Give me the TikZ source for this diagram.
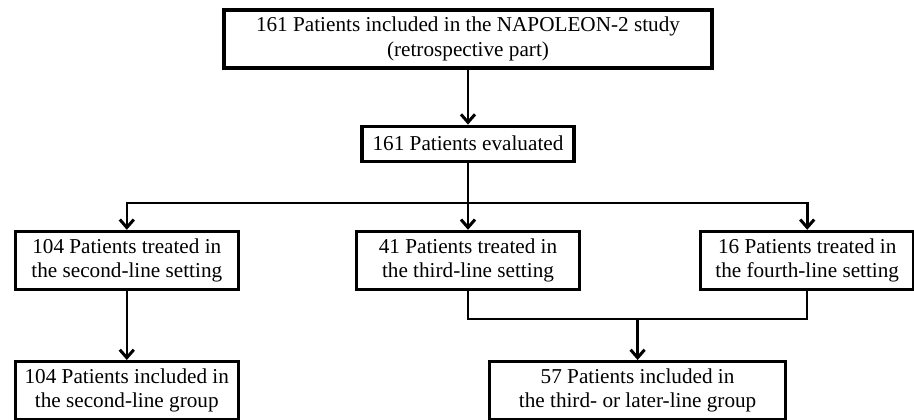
\documentclass[tikz,border=0pt]{standalone}
\usepackage{fontspec}
\setmainfont{Liberation Serif}
\usetikzlibrary{arrows.meta,positioning,calc}

\begin{document}
\begin{tikzpicture}[x=1pt,y=1pt,font=\fontsize{21.2}{24.2}\selectfont,
 box/.style={draw,line width=3.2pt,align=center,inner sep=0pt,minimum height=58pt},
 link/.style={line width=2.6pt},
 flow/.style={link,-{Straight Barb[length=8pt,width=14pt,line width=3pt]}}]
\useasboundingbox (0,0) rectangle (914,-420);
\node[box,minimum width=488pt,minimum height=58pt] (napoleon) at (468,-39) {161 Patients included in the NAPOLEON-2 study\\(retrospective part)};
\node[box,minimum width=212pt,minimum height=35pt,below=55pt of napoleon] (evaluated) {161 Patients evaluated};
\node[box,minimum width=223pt,below=67pt of evaluated] (third) {41 Patients treated in\\the third-line setting};
\node[box,minimum width=223pt,left=115pt of third] (second) {104 Patients treated in\\the second-line setting};
\node[box,minimum width=213pt,right=118pt of third] (fourth) {16 Patients treated in\\the fourth-line setting};
\node[box,minimum width=223pt,below=69pt of second] (secondgroup) {104 Patients included in\\the second-line group};
\coordinate (split) at ($(evaluated.south)+(0,-40pt)$);
\coordinate (join) at ($(third.south)!.5!(fourth.south)+(0,-28pt)$);
\node[box,minimum width=296pt,below=41pt of join] (latergroup) {57 Patients included in\\the third- or later-line group};
\draw[flow] (napoleon) -- (evaluated);
\draw[link] (evaluated) -- (split);
\draw[flow] (split) -| (second);
\draw[flow] (split) -| (fourth);
\draw[flow] (split) -- (third);
\draw[flow] (second) -- (secondgroup);
\draw[link,line width=2pt] (third.south) |- (join) -| (fourth.south);
\draw[flow] (join) -- (latergroup);
\end{tikzpicture}
\end{document}
